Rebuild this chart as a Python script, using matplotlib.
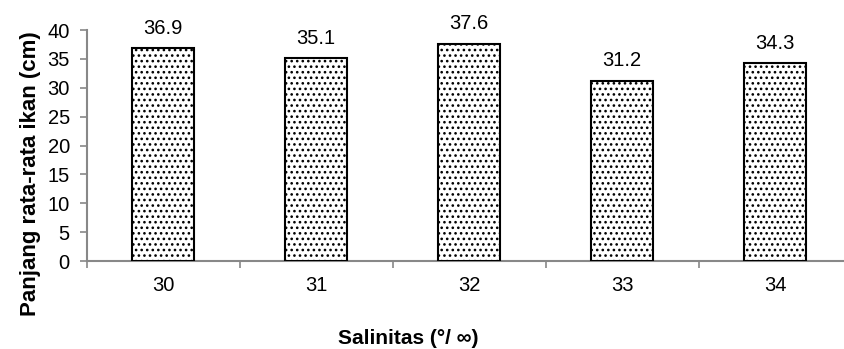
import numpy as np
import matplotlib.pyplot as plt

plt.rcParams['font.family'] = ['Liberation Sans', 'DejaVu Sans']
plt.rcParams['hatch.linewidth'] = 1.1

salinitas = ['30', '31', '32', '33', '34']
panjang = [36.9, 35.1, 37.6, 31.2, 34.3]

fig = plt.figure(figsize=(8.44, 3.49), dpi=100)
# axis runs off the right edge like in the original (cropped)
ax = fig.add_axes([0.1025, 0.252, 0.9064, 0.662])

x = np.arange(len(salinitas))
bars = ax.bar(x, panjang, width=0.405, color='white', edgecolor='black',
              linewidth=1.5, hatch='...', zorder=3)

for xi, v in zip(x, panjang):
    ax.text(xi, v + 1.8, f'{v}', ha='center', va='bottom', fontsize=14.5)

ax.set_xlim(-0.5, len(salinitas) - 0.5)
ax.set_ylim(0, 40)
ax.set_yticks(np.arange(0, 41, 5))
ax.set_xticks(x)
ax.set_xticklabels(salinitas)
ax.set_xticks(np.arange(-0.5, len(salinitas), 1), minor=True)
ax.tick_params(axis='x', which='major', length=0, pad=11, labelsize=14.5)
ax.tick_params(axis='x', which='minor', length=5, color='#888888', width=1.2)
ax.tick_params(axis='y', length=5, color='#888888', width=1.2, labelsize=14.5, pad=7)

for s in ['top', 'right']:
    ax.spines[s].set_visible(False)
for s in ['left', 'bottom']:
    ax.spines[s].set_color('#888888')
    ax.spines[s].set_linewidth(1.5)

ax.set_xlabel('Salinitas (°/ ∞)', fontsize=15, fontweight='bold', labelpad=24, x=0.42)
ax.set_ylabel('Panjang rata-rata ikan (cm)', fontsize=16, fontweight='bold', labelpad=5, y=0.38)

fig.savefig('out.png', dpi=100)
